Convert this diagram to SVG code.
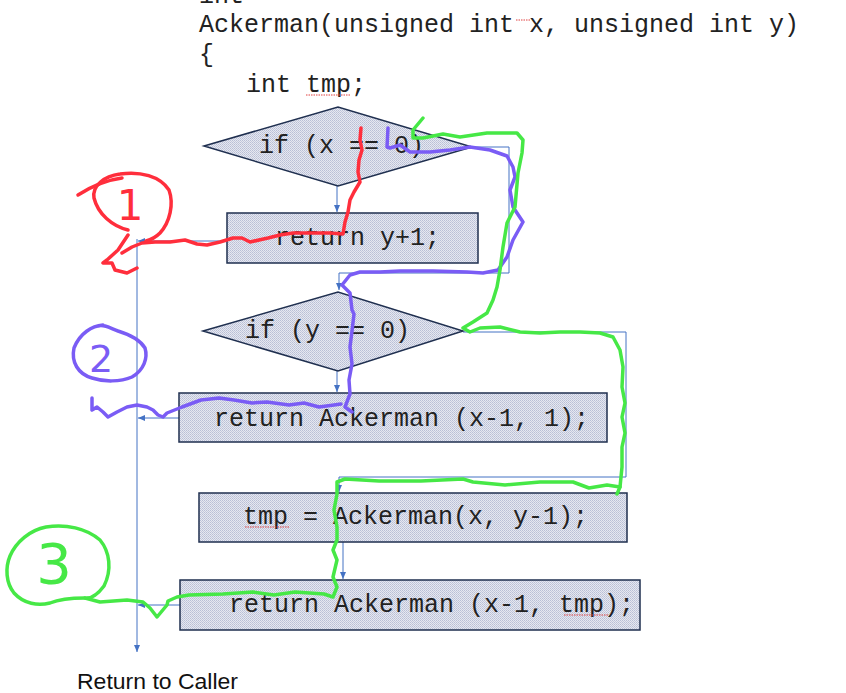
<svg xmlns="http://www.w3.org/2000/svg" width="846" height="693" viewBox="0 0 846 693">
<defs>
<pattern id="dither" width="2" height="2" patternUnits="userSpaceOnUse">
<rect width="2" height="2" fill="#E6E8F0"/>
<rect width="1" height="1" fill="#B9BFD6"/>
<rect x="1" y="1" width="1" height="1" fill="#C4C9DD"/>
</pattern>
<marker id="arr" markerWidth="8" markerHeight="8" refX="7" refY="4" orient="auto" markerUnits="userSpaceOnUse">
<path d="M0,1 L7,4 L0,7 z" fill="#4472C4"/>
</marker>
</defs>
<style>
.code{font-family:"Liberation Mono","Courier New",monospace;font-size:25px;fill:#222}
.shape{fill:url(#dither);stroke:#1F2F4F;stroke-width:1.5}
.conn{fill:none;stroke:#4472C4;stroke-width:1}
.ink{fill:none;stroke-width:3.5;stroke-linecap:round;stroke-linejoin:round}
.spell{fill:none;stroke:#E04040;stroke-width:1;stroke-dasharray:1.5 1}
.digit{font-family:"DejaVu Sans",sans-serif;text-anchor:middle}
</style>
<rect width="846" height="693" fill="#ffffff"/>

<g id="header">
<text class="code" x="199" y="3">int</text>
<text class="code" x="199" y="32">Ackerman(unsigned int x, unsigned int y)</text>
<text class="code" x="199" y="62">{</text>
<text class="code" x="246" y="92">int tmp;</text>
<path class="spell" d="M306,95 H351"/>
<path class="spell" d="M516,20 H530"/>
</g>

<g id="connectors">
<path class="conn" d="M337,186 V212" marker-end="url(#arr)"/>
<path class="conn" d="M472,147 H509 V273 H339 V290" marker-end="url(#arr)"/>
<path class="conn" d="M337,371 V392" marker-end="url(#arr)"/>
<path class="conn" d="M463,332 H626 V477 H339 V492" marker-end="url(#arr)"/>
<path class="conn" d="M343,542 V579" marker-end="url(#arr)"/>
<path class="conn" d="M227,241 H138" marker-end="url(#arr)"/>
<path class="conn" d="M179,418 H138" marker-end="url(#arr)"/>
<path class="conn" d="M180,605 H138" marker-end="url(#arr)"/>
<path class="conn" d="M137,239 V652" marker-end="url(#arr)"/>
</g>

<g id="if-x">
<polygon class="shape" points="204,146 338,107 472,147 338,186"/>
<text class="code" x="259" y="153">if (x == 0)</text>
</g>

<g id="return-y1">
<rect class="shape" x="227" y="213" width="251" height="50"/>
<text class="code" x="275" y="245">return y+1;</text>
</g>

<g id="if-y">
<polygon class="shape" points="203,331 338,292 463,331 338,371"/>
<text class="code" x="245" y="338">if (y == 0)</text>
</g>

<g id="return-ack1">
<rect class="shape" x="179" y="393" width="428" height="49"/>
<text class="code" x="214" y="426">return Ackerman (x-1, 1);</text>
</g>

<g id="tmp-ack">
<rect class="shape" x="199" y="493" width="428" height="49"/>
<text class="code" x="243" y="524">tmp = Ackerman(x, y-1);</text>
<path class="spell" d="M245,527 H290"/>
</g>

<g id="return-acktmp">
<rect class="shape" x="180" y="580" width="460" height="50"/>
<text class="code" x="229" y="612">return Ackerman (x-1, tmp);</text>
<path class="spell" d="M564,615 H609"/>
</g>

<g id="return-caller">
<text x="77" y="689" font-family="Liberation Sans, Arial, sans-serif" font-size="22" fill="#111" textLength="161" lengthAdjust="spacingAndGlyphs">Return to Caller</text>
</g>

<g id="ink-red" stroke="#FF2E3C">
<polyline class="ink" points="361,128 360,140 362,150 359,160 358,172 360,182 354,192 350,200 348,212 345,222 343,234 330,233 310,233 293,233 280,235 268,238 250,242 242,238 233,238 220,242 207,245 197,244 185,240 170,242 155,242 142,243 132,247 122,253"/>
<path class="ink" d="M128,230 C112,226 98,214 94,198 C92,186 104,176 120,174 C140,171 160,176 169,190 C174,204 170,222 160,233 C155,238 150,240 146,241"/>
<path class="ink" d="M78,195 C92,186 106,180 122,178"/>
<polyline class="ink" points="128,235 118,250 107,260 103,263 112,263 115,270 127,273 137,268"/>
<text class="digit" x="130" y="220" font-size="42" fill="#FF2E3C" stroke="none">1</text>
</g>

<g id="ink-purple" stroke="#7A5CF5">
<polyline class="ink" points="388,128 387,147 390,148 400,145 410,152 430,152 450,150 470,147 490,150 507,156 513,167 515,177 510,190 513,207 523,222 513,240 507,257 498,270 483,273 467,272 433,271 400,271 380,272 360,272 350,275 342,285 350,293 352,310 354,314 352,331 350,347 352,364 349,380 350,394 345,407 352,412"/>
<polyline class="ink" points="341,404 334,405 319,407 304,403 289,405 267,402 252,403 234,400 219,398 201,400 182,407 167,413 163,417 158,415 153,410 147,407 137,405 127,407 117,412 108,417 103,412 97,407 92,410 92,398"/>
<path class="ink" d="M103,325 C92,326 80,333 74,348 C71,362 78,374 92,378 C104,382 120,382 132,377 C144,370 148,358 145,348 C140,340 128,334 118,331 C110,328 104,324 98,326"/>
<text class="digit" x="101" y="372" font-size="38" fill="#7A5CF5" stroke="none">2</text>
</g>

<g id="ink-green" stroke="#46E846">
<polyline class="ink" points="423,118 413,130 413,138 423,138 443,134 460,137 487,133 517,133 523,140 522,153 518,173 515,207 507,223 503,247 500,270 497,287 493,300 487,313 473,322 463,328 470,332 480,328 500,327 520,332 540,333 560,332 580,332 600,333 613,337 620,350 623,367 622,387 625,403 622,417 625,433 622,447 622,467 620,487 617,494"/>
<polyline class="ink" points="620,487 607,485 589,488 573,482 540,482 505,485 473,482 463,479 421,481 379,481 345,479 337,482 337,494 334,510 337,527 337,540 333,550 337,560 333,577 337,587 333,597 324,594 295,592 274,595 253,592 223,594 189,595 177,597 168,601 167,605 157,617 150,608 143,602 127,600 100,602 85,598"/>
<path class="ink" d="M85,598 C75,598 62,598 50,603 C38,606 24,604 14,593 C6,583 5,568 10,556 C16,542 30,530 46,527 C66,524 86,528 100,540 C110,552 112,570 104,586 C98,594 92,598 87,598"/>
<text class="digit" x="54" y="583" font-size="56" fill="#46E846" stroke="none">3</text>
</g>
</svg>
